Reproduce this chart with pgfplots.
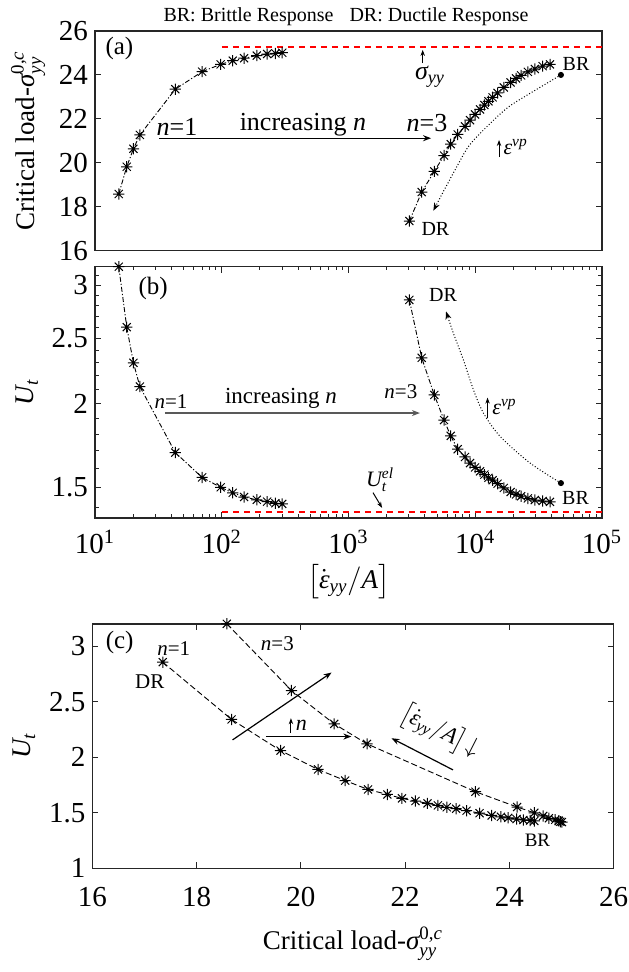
\documentclass[border=0pt]{standalone}
\usepackage{fontspec}
\setmainfont{Liberation Serif}
\usepackage{amsmath}
\usepackage{pgfplots}
\pgfplotsset{compat=1.18}
\usepackage{pgfplotstable}
\usetikzlibrary{arrows.meta}

\newcommand{\ti}[1]{\text{\normalfont\itshape #1}}
\newcommand{\tr}[1]{\text{\normalfont #1}}
\newcommand{\fs}[1]{\fontsize{#1}{#1}\selectfont}

\pgfdeclareplotmark{mstar}{%
  \pgfpathmoveto{\pgfqpoint{-\pgfplotmarksize}{0pt}}%
  \pgfpathlineto{\pgfqpoint{\pgfplotmarksize}{0pt}}%
  \pgfpathmoveto{\pgfqpoint{0pt}{-\pgfplotmarksize}}%
  \pgfpathlineto{\pgfqpoint{0pt}{\pgfplotmarksize}}%
  \pgfpathmoveto{\pgfqpoint{-0.72\pgfplotmarksize}{-0.72\pgfplotmarksize}}%
  \pgfpathlineto{\pgfqpoint{0.72\pgfplotmarksize}{0.72\pgfplotmarksize}}%
  \pgfpathmoveto{\pgfqpoint{-0.72\pgfplotmarksize}{0.72\pgfplotmarksize}}%
  \pgfpathlineto{\pgfqpoint{0.72\pgfplotmarksize}{-0.72\pgfplotmarksize}}%
  \pgfusepathqstroke
  \pgfpathcircle{\pgfpointorigin}{0.6pt}%
  \pgfusepathqfill
}

\pgfplotstableread{
r s u
15.4 18.58 3.20
17.8 19.82 2.60
20.1 20.64 2.30
22.6 21.27 2.12
43 23.35 1.69
70 24.15 1.552
98 24.48 1.50
122 24.65 1.472
150 24.76 1.451
189 24.88 1.437
228 24.95 1.428
265 24.98 1.420
300 25.01 1.417
}\nA

\pgfplotstableread{
r s u
3020 17.35 2.855
3780 18.67 2.34
4750 19.61 2.06
5670 20.33 1.89
6400 20.85 1.79
7270 21.29 1.71
8300 21.66 1.665
9100 21.94 1.63
9960 22.20 1.606
10900 22.43 1.585
11800 22.63 1.567
12700 22.80 1.55
13700 22.98 1.537
15000 23.18 1.519
16800 23.43 1.497
19000 23.66 1.476
21000 23.84 1.464
23000 23.98 1.455
26000 24.14 1.444
29500 24.27 1.436
34000 24.40 1.431
38900 24.48 1.427
}\nC

\pgfplotsset{
  mybase/.style={
    scale only axis,
    clip=false,
    axis line style={line width=0.8pt, black!85},
    every tick/.style={black!85, line width=0.5pt},
    major tick length=3pt, minor tick length=1.8pt,
    tick label style={font=\fs{14.5}},
    label style={font=\fs{13.5}},
    /pgf/number format/assume math mode=true,
  },
  starline/.style={black, line width=0.45pt, mark=mstar, mark size=2.8pt, mark options={solid, line width=0.5pt}},
  ddot/.style={dash pattern=on 2.5pt off 1pt on 0.6pt off 1pt},
  arr/.style={-{Stealth[length=4pt,width=3pt]}, line width=0.6pt, black},
  sarr/.style={-{Stealth[length=3pt,width=2.2pt]}, line width=0.5pt, black},
  rdash/.style={draw=red, line width=0.8pt, dash pattern=on 3pt off 2.5pt},
}

\begin{document}
\begin{tikzpicture}
\useasboundingbox (0,0) rectangle (314pt,-486pt);

% ---------------- (a)
\begin{axis}[mybase, at={(47.5pt,-15.5pt)}, anchor=north west,
  width=253.5pt, height=109.85pt,
  xmode=log, xmin=10, xmax=1e5, xtick=\empty,
  ymin=16, ymax=26, ytick={16,18,20,22,24,26},
  ylabel={Critical load-$\ti{σ}^{\tr{0,}\ti{c}}_{\ti{yy}}$},
]
\addplot[starline, ddot] table[x=r,y=s]{\nA};
\addplot[starline, ddot] table[x=r,y=s]{\nC};
\addplot[rdash] coordinates {(100,25.26) (1e5,25.26)};
\addplot[arr] coordinates {(32,21.12) (4480,21.12)};
\node[font=\fs{10}, anchor=base] at (rel axis cs:0.495,1.045) {BR: Brittle Response\hspace{0.8em}DR: Ductile Response};
\node[font=\fs{13}] at (axis cs:437,21.72) {increasing \textit{n}};
\node[font=\fs{13}] at (axis cs:44.4,21.63) {\textit{n}=1};
\node[font=\fs{13}] at (axis cs:4160,21.81) {\textit{n}=3};
\node[font=\fs{12.5}, anchor=north west, inner sep=0pt] at (rel axis cs:0.02,0.975) {(a)};
\addplot[sarr] coordinates {(3850,24.54) (3850,25.14)};
\node[font=\fs{13}, anchor=north, inner sep=1pt] at (axis cs:4400,24.5) {$\ti{σ}_{\ti{yy}}$};
\addplot[only marks, mark=*, mark size=1.3pt, black] coordinates {(47400,24)};
\node[font=\fs{10}] at (axis cs:62400,24.5) {BR};
\addplot[densely dotted, line width=0.5pt, smooth, -{Stealth[length=4pt,width=3pt]}] coordinates {(47400,24.0) (27000,23.16) (17700,22.48) (11600,21.49) (8800,20.73) (6920,19.67) (5600,18.69) (4670,17.82)};
\addplot[sarr] coordinates {(15400,20.26) (15400,21.04)};
\node[font=\fs{11}, anchor=west, inner sep=0.5pt] at (axis cs:16300,20.72) {$\ti{ε}^{\ti{vp}}$};
\node[font=\fs{10}] at (axis cs:4850,16.99) {DR};
\end{axis}

% ---------------- (b)
\begin{axis}[mybase, at={(47.5pt,-133.35pt)}, anchor=north west,
  width=253.5pt, height=125.65pt,
  xmode=log, ymode=log, xmin=10, xmax=1e5, ymin=1.35, ymax=3.2,
  xtick={10,100,1000,10000,100000},
  xticklabels={10\textsuperscript{1},10\textsuperscript{2},10\textsuperscript{3},10\textsuperscript{4},10\textsuperscript{5}},
  xticklabel style={yshift=-2.5pt},
  minor xtick={20,30,40,50,60,70,80,90,200,300,400,500,600,700,800,900,2000,3000,4000,5000,6000,7000,8000,9000,20000,30000,40000,50000,60000,70000,80000,90000},
  ytick={1.5,2,2.5,3}, yticklabels={1.5,2,2.5,3},
  minor ytick={1.4,1.6,1.7,1.8,1.9,2.1,2.2,2.3,2.4,2.6,2.7,2.8,2.9,3.1},
  ylabel={$\ti{U}_{\ti{t}}$},
  xlabel={$\bigl[\dot{\ti{ε}}_{\ti{yy}}/\ti{A}\bigr]$},
  xlabel style={yshift=2pt},
]
\addplot[starline, ddot] table[x=r,y=u]{\nA};
\addplot[starline, ddot] table[x=r,y=u]{\nC};
\addplot[rdash] coordinates {(100,1.378) (1e5,1.378)};
\addplot[-{Stealth[length=4pt,width=3pt]}, line width=0.6pt, black!65] coordinates {(35.6,1.936) (3660,1.936)};
\node[font=\fs{11.5}] at (axis cs:293,2.037) {increasing \textit{n}};
\node[font=\fs{10.5}] at (axis cs:39.8,2.013) {\textit{n}=1};
\node[font=\fs{10.5}] at (axis cs:2590,2.08) {\textit{n}=3};
\node[font=\fs{12.5}, anchor=north west, inner sep=0pt] at (rel axis cs:0.085,0.96) {(b)};
\node[font=\fs{10}] at (axis cs:5570,2.90) {DR};
\node[font=\fs{10}] at (axis cs:61800,1.445) {BR};
\addplot[only marks, mark=*, mark size=1.3pt, black] coordinates {(47400,1.522)};
\addplot[densely dotted, line width=0.5pt, smooth, -{Stealth[length=4pt,width=3pt]}] coordinates {(47400,1.522) (27000,1.631) (15700,1.787) (11600,1.936) (9660,2.098) (8050,2.325) (6710,2.548) (5880,2.744)};
\addplot[sarr] coordinates {(12500,1.906) (12500,2.041)};
\node[font=\fs{11}, anchor=west, inner sep=0.5pt] at (axis cs:13300,1.978) {$\ti{ε}^{\ti{vp}}$};
\node[font=\fs{11}] at (axis cs:1775,1.54) {$\ti{U}^{\ti{el}}_{\ti{t}}$};
\addplot[sarr] coordinates {(1560,1.473) (1840,1.398)};
\end{axis}

% ---------------- (c)
\begin{axis}[mybase, at={(46.2pt,-311.9pt)}, anchor=north west,
  width=260.55pt, height=122.3pt,
  xmin=16, xmax=26, ymin=1, ymax=3.2,
  xtick={16,18,20,22,24,26}, ytick={1,1.5,2,2.5,3},
  xticklabel style={yshift=-6pt},
  ylabel={$\ti{U}_{\ti{t}}$},
  xlabel={Critical load-$\ti{σ}^{\tr{0,}\ti{c}}_{\ti{yy}}$},
  xlabel style={yshift=-3pt},
]
\addplot[starline, dash pattern=on 3pt off 1.5pt] table[x=s,y=u]{\nA};
\addplot[starline, dash pattern=on 3pt off 1.5pt] table[x=s,y=u]{\nC};
\node[font=\fs{12.5}, anchor=north west, inner sep=0pt] at (rel axis cs:0.025,0.97) {(c)};
\node[font=\fs{10.5}] at (axis cs:17.56,2.98) {\textit{n}=1};
\node[font=\fs{10.5}] at (axis cs:17.1,2.68) {DR};
\node[font=\fs{10.5}] at (axis cs:19.55,3.02) {\textit{n}=3};
\addplot[arr] coordinates {(18.69,2.156) (20.59,2.762)};
\addplot[sarr] coordinates {(19.81,2.216) (19.81,2.351)};
\node[font=\fs{11}, anchor=west, inner sep=0.5pt] at (axis cs:19.88,2.285) {\textit{n}};
\addplot[arr] coordinates {(19.33,2.186) (20.97,2.186)};
\node[font=\fs{11.5}, rotate=-27] at (axis cs:22.67,2.23) {$\bigl[\dot{\ti{ε}}_{\ti{yy}}/\ti{A}\bigr]\!\downarrow$};
\addplot[arr] coordinates {(22.92,1.886) (21.74,2.171)};
\node[font=\fs{9.5}] at (axis cs:24.54,1.249) {BR};
\end{axis}
\end{tikzpicture}
\end{document}
